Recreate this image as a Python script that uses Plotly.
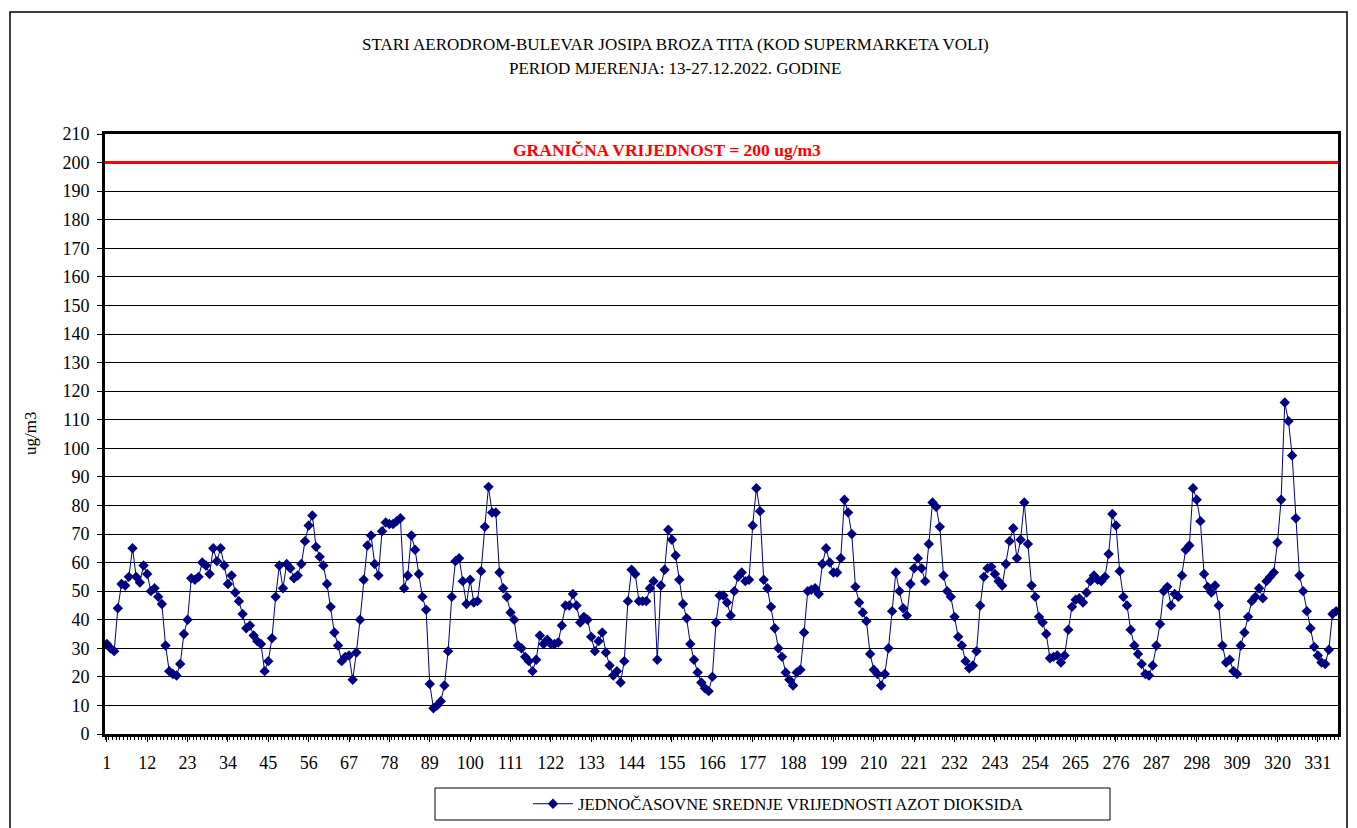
import plotly.graph_objects as go

hours = list(range(1, 337))
no2 = [
    31.5, 30, 29, 44, 52.5, 52, 55, 65, 55, 53, 59, 56, 50, 51, 48, 45.5, 31, 22, 21, 20.5,
    24.5, 35, 40, 54.5, 54, 55, 60, 59, 56, 65, 60.5, 65, 59, 52.5, 55.5, 49.5, 46.5, 42, 37, 38,
    34.5, 32.5, 31.5, 22, 25.5, 33.5, 48, 59, 51, 59.5, 58, 54.5, 55.5, 59.5, 67.5, 73, 76.5, 65.5, 62, 59,
    52.5, 44.5, 35.5, 31, 25.5, 27, 27.5, 19, 28.5, 40, 54, 66, 69.5, 59.5, 55.5, 71, 74, 73.5, 73.5, 74.5,
    75.5, 51, 55.5, 69.5, 64.5, 56, 48, 43.5, 17.5, 9, 10, 11.5, 17, 29, 48, 60.5, 61.5, 53.5, 45.5, 54,
    46, 46.5, 57, 72.5, 86.5, 77.5, 77.5, 56.5, 51, 48, 42.5, 40, 31, 30, 27, 25.5, 22, 26, 34.5, 31.5,
    33, 31.5, 31.5, 32, 38, 45, 45, 49, 45, 39, 41, 40, 34, 29, 32.5, 35.5, 28.5, 24, 20.5, 22,
    18, 25.5, 46.5, 57.5, 56, 46.5, 46.5, 46.5, 51, 53.5, 26, 52, 57.5, 71.5, 68, 62.5, 54, 45.5, 40.5, 31.5,
    26, 21.5, 18, 16, 15, 20, 39, 48.5, 48.5, 46, 41.5, 50, 55, 56.5, 53.5, 54, 73, 86, 78, 54,
    51, 44.5, 37, 30, 27, 21.5, 19, 17, 21.5, 22.5, 35.5, 50, 50.5, 51, 49, 59.5, 65, 60, 56.5, 56.5,
    61.5, 82, 77.5, 70, 51.5, 46, 42.5, 39.5, 28, 22.5, 21, 17, 21, 30, 43, 56.5, 50, 44, 41.5, 52.5,
    58, 61.5, 58, 53.5, 66.5, 81, 79.5, 72.5, 55.5, 50, 48, 41, 34, 31, 25.5, 23, 24, 29, 45, 55,
    58, 58.5, 56, 53.5, 52, 59.5, 67.5, 72, 61.5, 68, 81, 66.5, 52, 48, 41, 39, 35, 26.5, 27, 27.5,
    25, 27.5, 36.5, 44.5, 47, 47.5, 46, 49.5, 53.5, 55.5, 54, 53.5, 55, 63, 77, 73, 57, 48, 45, 36.5,
    31, 28, 24.5, 21, 20.5, 24, 31, 38.5, 50, 51.5, 45, 49, 48, 55.5, 64.5, 66, 86, 82, 74.5, 56,
    51.5, 49.5, 52, 45, 31, 25, 26, 22, 21, 31, 35.5, 41, 46.5, 48, 51, 47.5, 53.5, 55, 56.5, 67,
    82, 116, 109.5, 97.5, 75.5, 55.5, 50, 43, 37, 30.5, 27.5, 25, 24.5, 29.5, 42, 43,
]
x_tick_labels = list(range(1, 337, 11))
y_ticks = list(range(0, 211, 10))
limit_value = 200
title_line1 = "STARI AERODROM-BULEVAR JOSIPA BROZA TITA (KOD SUPERMARKETA VOLI)"
title_line2 = "PERIOD MJERENJA: 13-27.12.2022. GODINE"
limit_label = "GRANIČNA VRIJEDNOST = 200 ug/m3"
series_name = "JEDNOČASOVNE SREDNJE VRIJEDNOSTI AZOT DIOKSIDA"

FONT = "Liberation Serif, Times New Roman, serif"
NAVY = "#000080"

# page offset introduced by default body margin
OFF = 8
PAGE_W, PAGE_H = 1357, 828
W, H = PAGE_W - OFF, PAGE_H - OFF
L, R, T, B = 105, 1338, 134, 734   # plot area in page pixels


def px(xp):
    return (xp - L) / (R - L)


def py(yp):
    return (B - yp) / (B - T)


fig = go.Figure()
fig.add_trace(go.Scatter(
    x=hours, y=no2, mode="lines+markers", name=series_name,
    line=dict(color=NAVY, width=1),
    marker=dict(symbol="diamond", size=8, color=NAVY),
))

fig.update_layout(
    width=W, height=H,
    margin=dict(l=L - OFF, r=W - (R - OFF), t=T - OFF, b=H - (B - OFF), pad=0, autoexpand=False),
    paper_bgcolor="white", plot_bgcolor="white",
    font=dict(family=FONT, size=17, color="black"),
    showlegend=True,
    legend=dict(x=px(528), y=py(804), xanchor="left", yanchor="middle",
                bgcolor="rgba(0,0,0,0)", font=dict(family=FONT, size=16.5, color="black"),
                itemwidth=40),
    xaxis=dict(
        range=[0.5, 336.5], tickmode="array", tickvals=x_tick_labels,
        ticktext=[str(v) for v in x_tick_labels],
        showgrid=False, zeroline=False,
        showline=True, linecolor="black", linewidth=3, mirror=True,
        ticks="outside", ticklen=5, tickcolor="black", tickwidth=1,
        minor=dict(dtick=1, tick0=0.5, ticks="outside", ticklen=3, tickcolor="black", tickwidth=1),
        tickfont=dict(family=FONT, size=18),
        ticklabelstandoff=5,
    ),
    yaxis=dict(
        range=[0, 210], tickmode="array", tickvals=y_ticks,
        showgrid=True, gridcolor="black", gridwidth=1, zeroline=False,
        showline=True, linecolor="black", linewidth=3, mirror=True,
        ticks="outside", ticklen=5, tickcolor="black",
        tickfont=dict(family=FONT, size=18),
        ticklabelstandoff=4,
    ),
    shapes=[
        dict(type="line", xref="paper", yref="y", x0=0, x1=1, y0=limit_value, y1=limit_value,
             line=dict(color="red", width=3)),
        dict(type="rect", xref="paper", yref="paper", x0=px(10), x1=px(1347), y0=py(845), y1=py(12),
             line=dict(color="black", width=1.5), fillcolor="rgba(0,0,0,0)", layer="below"),
        dict(type="rect", xref="paper", yref="paper", x0=px(435), x1=px(1110), y0=py(820), y1=py(788),
             line=dict(color="black", width=1), fillcolor="rgba(0,0,0,0)"),
    ],
    annotations=[
        dict(text=title_line1, xref="paper", yref="paper", x=px(675), y=py(45),
             showarrow=False, xanchor="center", yanchor="middle", font=dict(family=FONT, size=17)),
        dict(text=title_line2, xref="paper", yref="paper", x=px(675), y=py(69),
             showarrow=False, xanchor="center", yanchor="middle", font=dict(family=FONT, size=17)),
        dict(text="<b>" + limit_label + "</b>", xref="paper", yref="y", x=px(667), y=204.5,
             showarrow=False, xanchor="center", yanchor="middle",
             font=dict(family=FONT, size=17.5, color="red")),
        dict(text="ug/m3", xref="paper", yref="paper", x=px(30), y=py(434), textangle=-90,
             showarrow=False, xanchor="center", yanchor="middle", font=dict(family=FONT, size=17)),
    ],
)

fig.write_html("out.html")
